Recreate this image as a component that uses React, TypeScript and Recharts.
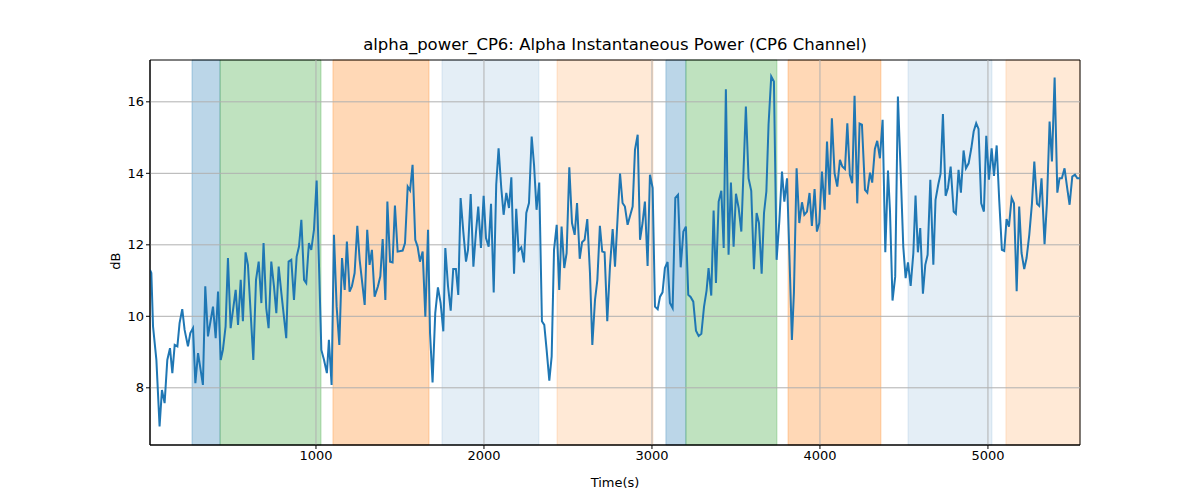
import React from "react";
import { LineChart, Line, XAxis, YAxis, ReferenceArea, ReferenceLine } from "recharts";

const times = [12,20,30,50,69,83,99,115,131,145,159,175,188,204,218,238,252,268,282,298,327,341,357,387,403,417,433,446,462,476,492,522,536,552,565,581,595,627,643,659,675,688,704,718,734,750,764,778,794,823,837,853,869,885,899,913,929,942,958,972,988,1004,1032,1048,1065,1077,1093,1107,1123,1139,1155,1171,1184,1200,1214,1230,1246,1260,1290,1305,1319,1333,1349,1369,1383,1397,1413,1425,
1441,1456,1470,1486,1516,1530,1546,1560,1575,1591,1605,1619,1635,1651,1667,1679,1694,1710,1726,1742,1758,1770,1786,1802,1817,1833,1847,1861,1877,1893,1905,1921,1937,1952,1966,1982,1998,2012,2028,2042,2058,2073,2087,2103,2117,2133,2149,2163,2179,2192,2206,2222,2238,2252,2268,2284,2298,2313,2329,2345,2359,2373,2389,2403,2417,2433,2448,2462,2478,2492,2508,2524,2540,2554,2570,2584,2599,2615,2631,2645,2661,2675,2690,2704,2718,2734,2750,2766,2780,2798,2810,
2825,2839,2855,2885,2899,2915,2929,2944,2958,2974,2988,3004,3018,3034,3048,3063,3077,3093,3107,3123,3139,3155,3171,3187,3202,3216,3230,3246,3262,3278,3294,3310,3325,3337,3353,3367,3381,3397,3413,3427,3440,3456,3470,3486,3500,3516,3532,3559,3575,3591,3607,3623,3637,3653,3667,3681,3694,3710,3726,3742,3758,3774,3788,3804,3819,3833,3845,3861,3877,3893,3907,3923,3938,3952,3968,3982,3996,4012,4028,4042,4057,4071,4087,4103,4119,4133,4149,4163,4178,
4192,4206,4222,4236,4250,4268,4282,4298,4311,4327,4341,4357,4373,4389,4405,4417,4432,4448,4464,4480,4496,4510,4524,4540,4556,4569,4583,4597,4613,4627,4641,4657,4675,4688,4704,4718,4732,4748,4762,4778,4796,4809,4825,4839,4855,4869,4885,4901,4915,4930,4944,4960,4976,4990,5006,5022,5036,5052,5067,5083,5097,5111,5125,5141,5155,5171,5186,5200,5216,5230,5246,5262,5276,5292,5305,5319,5337,5351,5367,5381,5397,5413,5426,5440,5456,5472,5486,5502,5518,5532,5548];

const power = [11.3,11.21,9.72,8.78,6.92,7.94,7.57,8.78,9.11,8.41,9.2,9.16,9.81,10.2,9.62,9.16,9.53,9.67,8.13,8.97,8.08,10.84,9.44,10.27,9.39,10.69,8.78,9.06,9.72,11.63,9.67,10.74,9.76,11.02,9.86,11.79,11.44,8.78,11.02,11.53,10.37,12.05,10.23,9.67,11.53,10.84,10.09,11.39,10.65,9.39,11.53,11.58,10.46,11.67,11.95,12.7,11.02,10.93,12.05,11.86,12.42,13.8,9.06,8.78,8.41,9.34,8.08,12.28,10.27,9.2,11.63,10.74,12.09,10.69,10.84,11.21,12.53,11.58,10.32,12.42,11.44,11.86,10.55,10.84,11.12,12.16,10.46,13.21,
11.53,11.51,13.1,11.81,11.84,12.05,13.63,13.52,14.24,12.14,11.95,11.53,11.81,9.99,12.42,9.53,8.15,10.09,10.81,10.37,9.58,11.91,10.84,10.16,11.32,11.32,10.6,13.31,12.37,11.53,11.86,13.42,11.39,12.33,13.07,11.91,13.37,12.19,11.95,13.15,10.67,13.68,14.7,13.59,12.84,13.45,13.03,13.89,11.19,13.01,11.84,11.93,11.51,12.89,13.17,15.03,14.24,12.98,13.74,9.86,9.76,9.06,8.2,8.88,11.86,12.56,10.74,12.51,11.35,11.77,14.17,12.61,12.28,13.17,11.61,12.07,12.14,12.72,11.21,9.2,10.46,11.02,12.53,11.81,11.79,9.86,11.39,12.44,11.39,12.98,13.99,
13.17,13.07,12.56,13.07,14.66,15.08,12.14,12.61,13.21,11.41,13.96,13.59,10.27,10.2,10.55,10.67,11.35,11.52,10.37,10.23,13.31,13.4,11.37,12.37,12.51,10.6,10.54,10.41,9.6,9.45,9.51,10.27,10.72,11.35,10.58,12.96,10.93,13.21,13.51,11.91,16.35,11.72,13.74,11.95,13.43,13.03,12.37,15.87,13.86,13.51,11.32,12.89,12.61,11.19,12.89,13.49,15.36,16.71,16.57,11.58,12.65,14.05,13.21,13.86,11.58,9.34,10.65,14.14,12.61,13.19,12.84,12.93,13.45,12.53,13.56,12.37,12.61,14.05,12.98,14.89,13.4,15.54,14.0,13.63,14.38,14.19,14.12,15.4,13.96,
13.72,16.17,13.16,15.39,15.36,13.54,13.46,14.02,13.74,14.68,14.91,14.42,15.5,11.79,14.08,12.93,10.44,11.11,16.15,14.1,11.95,11.07,11.51,10.85,11.77,13.38,11.79,12.47,10.63,11.44,11.72,13.82,11.44,13.26,13.68,13.99,15.66,13.37,13.59,14.19,12.93,12.87,14.1,13.46,14.64,14.14,14.28,14.7,15.17,15.4,15.24,13.16,12.93,15.05,13.82,14.7,13.93,14.78,13.26,11.86,11.83,12.72,12.51,13.31,13.16,10.7,13.07,11.77,11.32,11.63,12.28,13.16,14.33,13.15,13.09,13.86,12.02,13.16,15.45,14.33,16.68,13.46,13.86,13.86,14.14,13.58,13.12,13.91,13.96,13.86,13.86];

const spanStarts = [262, 429, 1101, 1750, 2435, 3083, 3202, 3810, 4524, 5107];
const spanEnds = [429, 1030, 1673, 2327, 3006, 3202, 3744, 4363, 5024, 5548];
const spanColors = ["#1f77b4", "#2ca02c", "#ff7f0e", "#1f77b4", "#ff7f0e", "#1f77b4", "#2ca02c", "#ff7f0e", "#1f77b4", "#ff7f0e"];
const spanOpacities = [0.3, 0.3, 0.3, 0.12, 0.17, 0.3, 0.3, 0.3, 0.12, 0.17];

const xTicks = [1000, 2000, 3000, 4000, 5000];
const yTicks = [8, 10, 12, 14, 16];
const X_MIN = 12, X_MAX = 5548, Y_MIN = 6.4, Y_MAX = 17.17;

const data = times.map((t, i) => ({ t, v: power[i] }));
const font = "DejaVu Sans, sans-serif";

export default function App() {
  return (
    <div style={{ position: "absolute", left: 0, top: 0, width: 1200, height: 500, background: "#fff", fontFamily: font }}>
      <div style={{ position: "absolute", top: 35, left: 150, width: 930, textAlign: "center", fontSize: 16.5, color: "#000" }}>
        alpha_power_CP6: Alpha Instantaneous Power (CP6 Channel)
      </div>
      <LineChart width={1200} height={500} data={data} margin={{ top: 60, right: 120, left: 0, bottom: 0 }}>
        <XAxis dataKey="t" type="number" domain={[X_MIN, X_MAX]} ticks={xTicks} allowDataOverflow
          height={55} tick={{ fill: "#000", fontSize: 13, fontFamily: font }} tickSize={4} stroke="#000"
          label={{ value: "Time(s)", position: "insideBottom", offset: 13, fill: "#000", fontSize: 13, fontFamily: font }} />
        <YAxis type="number" domain={[Y_MIN, Y_MAX]} ticks={yTicks} allowDataOverflow width={150}
          tick={{ fill: "#000", fontSize: 13, fontFamily: font }} tickSize={4} stroke="#000"
          label={{ value: "dB", angle: -90, position: "insideRight", offset: 35, fill: "#000", fontSize: 13, fontFamily: font }} />
        {spanStarts.map((s, i) => (
          <ReferenceArea key={"s" + i} x1={s} x2={spanEnds[i]} y1={Y_MIN} y2={Y_MAX}
            fill={spanColors[i]} fillOpacity={spanOpacities[i]} stroke={spanColors[i]} strokeOpacity={spanOpacities[i]} />
        ))}
        {xTicks.map((x) => <ReferenceLine key={"gx" + x} x={x} stroke="#b0b0b0" strokeWidth={1} />)}
        {yTicks.map((y) => <ReferenceLine key={"gy" + y} y={y} stroke="#b0b0b0" strokeWidth={1} />)}
        <Line dataKey="v" stroke="#1f77b4" strokeWidth={2} dot={false} isAnimationActive={false} />
        <ReferenceArea x1={X_MIN} x2={X_MAX} y1={Y_MIN} y2={Y_MAX} fill="none" stroke="#000" strokeWidth={1} />
      </LineChart>
    </div>
  );
}
